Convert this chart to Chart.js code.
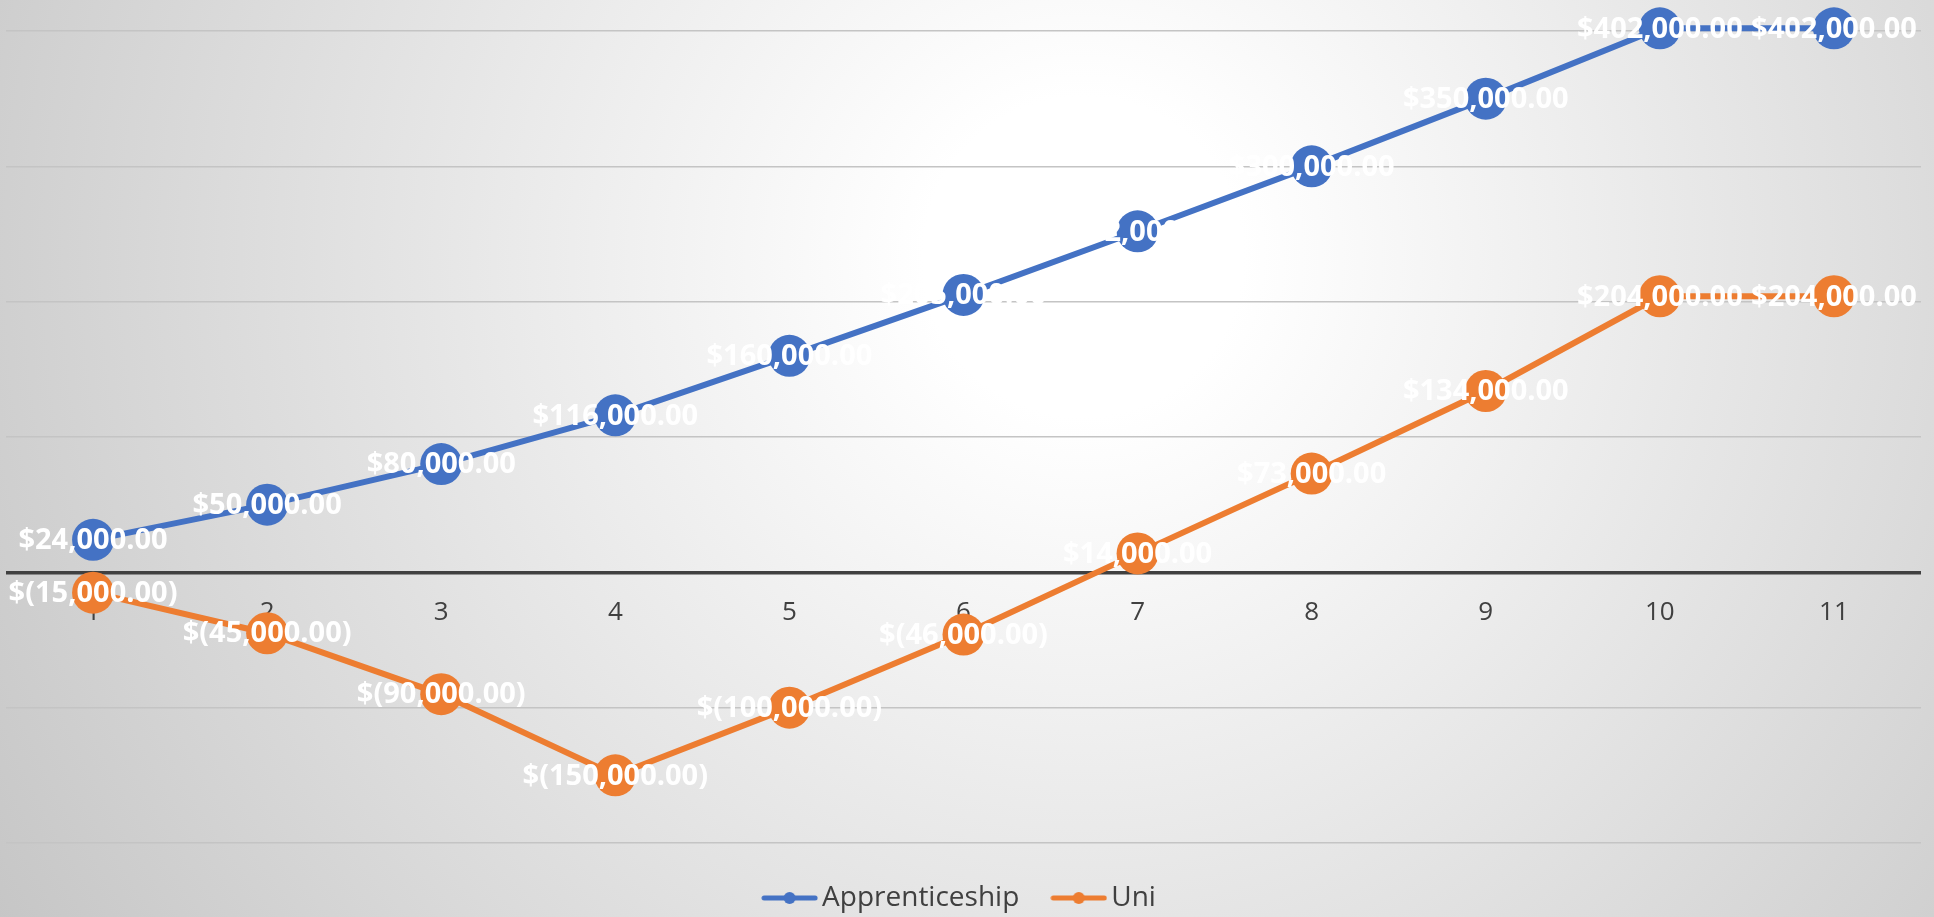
<!DOCTYPE html>
<html lang="en">
<head>
  <meta charset="UTF-8" />
  <title>Apprenticeship vs Uni</title>
  <style>
    html, body {
      margin: 0;
      padding: 0;
      overflow: hidden;
    }
    body {
      width: 1934px;
      height: 917px;
      background: radial-gradient(circle at 56% 28%, #ffffff 0px, #ffffff 160px, #c2c2c2 1350px);
    }
    .chart-box {
      position: relative;
      width: 1934px;
      height: 917px;
    }
  </style>
</head>
<body>
  <div class="chart-box">
    <canvas id="earnChart"></canvas>
  </div>

  <script src="https://cdn.jsdelivr.net/npm/chart.js"></script>
  <script>
    // years along the bottom
    const years = ['1', '2', '3', '4', '5', '6', '7', '8', '9', '10', '11'];
    // cumulative position, in dollars
    const apprenticeship = [24000, 50000, 80000, 116000, 160000, 205000, 252000, 300000, 350000, 402000, 402000];
    const uni = [-15000, -45000, -90000, -150000, -100000, -46000, 14000, 73000, 134000, 204000, 204000];
    // gridlines
    const yTicks = [-200000, -100000, 0, 100000, 200000, 300000, 400000];

    const blue = '#4472C4';
    const orange = '#ED7D31';

    function money(v) {
      const s = Math.abs(v).toLocaleString('en-US', { minimumFractionDigits: 2, maximumFractionDigits: 2 });
      return v < 0 ? '$(' + s + ')' : '$' + s;
    }

    // little line + dot for the legend
    function legendIcon(color) {
      const c = document.createElement('canvas');
      c.width = 57;
      c.height = 14;
      const g = c.getContext('2d');
      g.strokeStyle = color;
      g.lineWidth = 5;
      g.lineCap = 'round';
      g.beginPath();
      g.moveTo(3, 7);
      g.lineTo(54, 7);
      g.stroke();
      g.fillStyle = color;
      g.beginPath();
      g.arc(28.5, 7, 6, 0, Math.PI * 2);
      g.fill();
      return c;
    }
    const icons = [legendIcon(blue), legendIcon(orange)];

    // white value labels centred on each point
    const valueLabels = {
      id: 'valueLabels',
      afterDraw(chart) {
        const ctx = chart.ctx;
        ctx.save();
        ctx.font = 'bold 29px "Open Sans"';
        ctx.fillStyle = '#ffffff';
        ctx.textAlign = 'center';
        ctx.textBaseline = 'middle';
        chart.data.datasets.forEach((ds, i) => {
          const meta = chart.getDatasetMeta(i);
          meta.data.forEach((pt, j) => {
            ctx.fillText(money(ds.data[j]), pt.x, pt.y + 1);
          });
        });
        ctx.restore();
      }
    };

    new Chart(document.getElementById('earnChart'), {
      type: 'line',
      data: {
        labels: years,
        datasets: [
          {
            label: 'Apprenticeship',
            data: apprenticeship,
            borderColor: blue,
            backgroundColor: blue,
            borderWidth: 6,
            pointRadius: 21,
            pointHoverRadius: 21,
            pointBorderWidth: 0,
            clip: false,
            order: 1
          },
          {
            label: 'Uni',
            data: uni,
            borderColor: orange,
            backgroundColor: orange,
            borderWidth: 6,
            pointRadius: 21,
            pointHoverRadius: 21,
            pointBorderWidth: 0,
            clip: false,
            order: 0
          }
        ]
      },
      options: {
        responsive: true,
        maintainAspectRatio: false,
        animation: false,
        events: [],
        layout: {
          autoPadding: false,
          padding: { top: 31, left: 6, right: 13, bottom: -5 }
        },
        scales: {
          x: {
            position: { y: 0 },
            offset: true,
            z: 1,
            grid: { display: false, drawTicks: false },
            border: { display: false },
            ticks: {
              color: '#404040',
              font: { family: '"Open Sans"', size: 26 },
              padding: 25,
              maxRotation: 0
            }
          },
          y: {
            min: -200000,
            max: 400000,
            afterBuildTicks(scale) {
              scale.ticks = yTicks.map(v => ({ value: v }));
            },
            afterFit(scale) {
              scale.width = 0;
            },
            ticks: { display: false },
            border: { display: false },
            grid: {
              drawTicks: false,
              color: c => c.tick && c.tick.value === 0 ? '#404040' : '#c4c4c4',
              lineWidth: c => c.tick && c.tick.value === 0 ? 3.5 : 1.5
            }
          }
        },
        plugins: {
          legend: {
            position: 'bottom',
            labels: {
              usePointStyle: true,
              pointStyleWidth: 37,
              color: '#404040',
              font: { family: '"Open Sans"', size: 28 },
              padding: 41,
              sort: (a, b) => a.datasetIndex - b.datasetIndex,
              generateLabels(chart) {
                const items = Chart.defaults.plugins.legend.labels.generateLabels(chart);
                items.forEach(it => { it.pointStyle = icons[it.datasetIndex]; });
                return items;
              }
            }
          },
          tooltip: { enabled: false }
        }
      },
      plugins: [valueLabels]
    });
  </script>
</body>
</html>
